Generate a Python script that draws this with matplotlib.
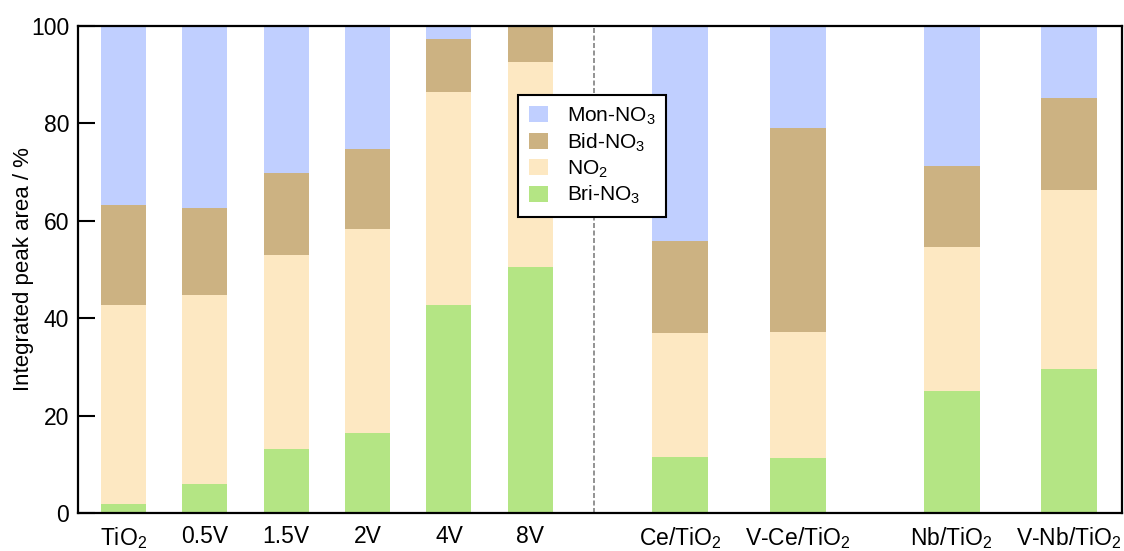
import numpy as np
import matplotlib.pyplot as plt

plt.rcParams['font.family'] = ['Liberation Sans', 'DejaVu Sans']
plt.rcParams['mathtext.fontset'] = 'custom'
plt.rcParams['mathtext.rm'] = 'Liberation Sans'
plt.rcParams['mathtext.default'] = 'regular'

# samples (left group: V loading series, right group: supports)
samples = ['TiO$_2$', '0.5V', '1.5V', '2V', '4V', '8V',
           'Ce/TiO$_2$', 'V-Ce/TiO$_2$', 'Nb/TiO$_2$', 'V-Nb/TiO$_2$']
bri_no3 = [1.9, 6.0, 13.2, 16.5, 42.6, 50.4, 11.5, 11.3, 25.1, 29.6]
no2 = [40.7, 38.7, 39.7, 41.7, 43.8, 42.2, 25.5, 25.9, 29.6, 36.7]
bid_no3 = [20.6, 17.9, 16.9, 16.5, 10.9, 7.4, 18.8, 41.8, 16.5, 18.9]
mon_no3 = [36.8, 37.4, 30.2, 25.3, 2.7, 0.0, 44.2, 21.0, 28.8, 14.8]

xpos = np.array([0, 1, 2, 3, 4, 5, 6.84, 8.29, 10.18, 11.62])
widths = np.array([0.553] * 6 + [0.688] * 4)

colors = {'Mon': '#c0cfff', 'Bid': '#ccb282', 'NO2': '#fde8c2', 'Bri': '#b4e584'}

fig = plt.figure(figsize=(11.24, 5.51), dpi=100)
ax = fig.add_axes([0.069, 0.069, 0.929, 0.884])

bottom = np.zeros(len(samples))
layers = [(bri_no3, colors['Bri'], 'Bri-NO$_3$'),
          (no2, colors['NO2'], 'NO$_2$'),
          (bid_no3, colors['Bid'], 'Bid-NO$_3$'),
          (mon_no3, colors['Mon'], 'Mon-NO$_3$')]
handles = []
for vals, col, lab in layers:
    vals = np.array(vals)
    b = ax.bar(xpos, vals, width=widths, bottom=bottom, color=col,
               label=lab, linewidth=0, zorder=1)
    handles.append(b)
    bottom += vals

# divider between the two sample groups
ax.axvline(5.78, color='#808080', linestyle=(0, (3, 1.5)), linewidth=1.2, zorder=2)

ax.set_xlim(-0.565, 12.27)
ax.set_ylim(0, 100)
ax.set_xticks(xpos)
ax.set_xticklabels(samples, fontsize=16.5)
ax.tick_params(axis='x', length=0, pad=9)
ax.set_yticks([0, 20, 40, 60, 80, 100])
ax.tick_params(axis='y', direction='in', length=12, width=1.5, labelsize=16.5, pad=6)
ax.set_ylabel('Integrated peak area / %', fontsize=16, labelpad=-2)

for sp in ax.spines.values():
    sp.set_linewidth(1.6)
    sp.set_zorder(3)

leg = ax.legend(handles=handles[::-1], loc='upper left', bbox_to_anchor=(0.422, 0.858),
                borderaxespad=0, fontsize=15, fancybox=False, framealpha=1,
                edgecolor='black', handlelength=0.95, handleheight=0.8,
                handletextpad=0.9, labelspacing=0.22, borderpad=0.5)
leg.get_frame().set_linewidth(1.5)

fig.savefig('out.png', dpi=100)
